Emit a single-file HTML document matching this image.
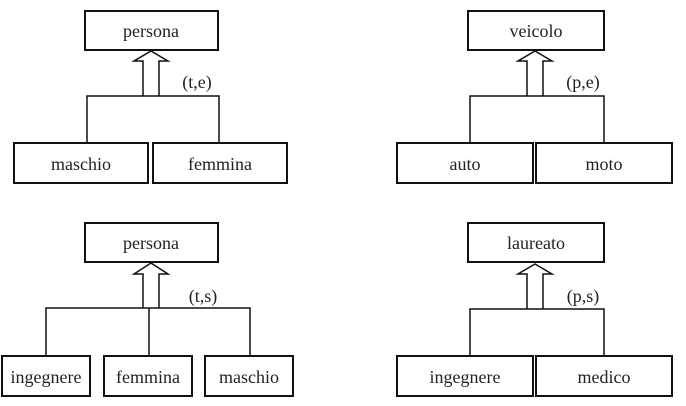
<!DOCTYPE html>
<html><head><meta charset="utf-8"><style>
html,body{margin:0;padding:0;background:#fff;width:686px;height:406px;overflow:hidden}
text{font-family:"Liberation Serif",serif;font-size:18px;fill:#222}
</style></head><body>
<svg width="686" height="406" viewBox="0 0 686 406">
<g fill="none" stroke="#111">
<g>
<rect x="85" y="11" width="133" height="39" stroke-width="2"/>
<path d="M143,96 V61 H134 L151,51 L168,61 H159 V96" stroke-width="1.5" fill="#fff"/>
<path d="M87,142 V96 H219 V142" stroke-width="1.5"/>
<rect x="14" y="143" width="134" height="40" stroke-width="2"/>
<rect x="153" y="143" width="134" height="40" stroke-width="2"/>
</g>
<g>
<rect x="468" y="11" width="136" height="39" stroke-width="2"/>
<path d="M527,96 V61 H518 L535,51 L552,61 H543 V96" stroke-width="1.5" fill="#fff"/>
<path d="M470,142 V96 H604 V142" stroke-width="1.5"/>
<rect x="397" y="143" width="136" height="40" stroke-width="2"/>
<rect x="536" y="143" width="136" height="40" stroke-width="2"/>
</g>
<g>
<rect x="85" y="223" width="133" height="39" stroke-width="2"/>
<path d="M143,308 V274 H134 L151,263 L168,274 H159 V308" stroke-width="1.5" fill="#fff"/>
<path d="M46,355 V308 H250 V355 M149,308 V355" stroke-width="1.5"/>
<rect x="2" y="356" width="88" height="40" stroke-width="2"/>
<rect x="104" y="356" width="88" height="40" stroke-width="2"/>
<rect x="205" y="356" width="88" height="40" stroke-width="2"/>
</g>
<g>
<rect x="468" y="223" width="136" height="39" stroke-width="2"/>
<path d="M527,309 V274 H518 L535,264 L552,274 H543 V309" stroke-width="1.5" fill="#fff"/>
<path d="M470,355 V309 H604 V355" stroke-width="1.5"/>
<rect x="397" y="356" width="136" height="40" stroke-width="2"/>
<rect x="536" y="356" width="136" height="40" stroke-width="2"/>
</g>
</g>
<g text-anchor="middle">
<text x="151" y="37">persona</text>
<text x="81" y="170">maschio</text>
<text x="220" y="170">femmina</text>
<text x="197" y="88">(t,e)</text>
<text x="536" y="37">veicolo</text>
<text x="465" y="170">auto</text>
<text x="604" y="170">moto</text>
<text x="583" y="88">(p,e)</text>
<text x="151" y="249">persona</text>
<text x="46" y="383">ingegnere</text>
<text x="148" y="383">femmina</text>
<text x="249" y="383">maschio</text>
<text x="203" y="302">(t,s)</text>
<text x="536" y="249">laureato</text>
<text x="465" y="383">ingegnere</text>
<text x="604" y="383">medico</text>
<text x="583" y="302">(p,s)</text>
</g>
</svg>
</body></html>
